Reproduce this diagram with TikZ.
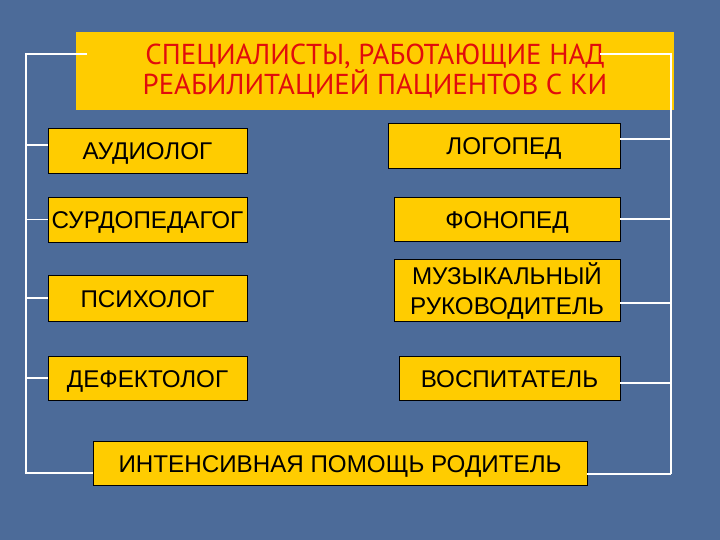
\documentclass[tikz,border=0pt]{standalone}
\usepackage{fontspec}
\setmainfont{Liberation Sans}
\newfontfamily\titlefont{PT Sans}
\definecolor{slideblue}{RGB}{76,107,153}
\definecolor{boxyellow}{RGB}{255,204,0}
\definecolor{titlered}{RGB}{225,12,12}

\begin{document}
\begin{tikzpicture}[x=1pt,y=-1pt,
    jobbox/.style={draw=black,
      line width=0.9pt,
      fill=boxyellow,
      inner sep=0pt,
      minimum height=45pt,
      text height=18.5pt,
      text depth=0pt,
      font=\fontsize{24.2}{30}\selectfont},
    wire/.style={draw=white, line width=1.2pt}]

    % Background
    \fill[slideblue] (0,0) rectangle (720,540);

    % Title
    \node[fill=boxyellow,
      minimum width=598pt,
      minimum height=78pt,
      inner sep=0pt,
      align=center,
      text=titlered,
      font=\titlefont\fontsize{28.8}{27}\selectfont] (title) at (375,71)
      {СПЕЦИАЛИСТЫ, РАБОТАЮЩИЕ НАД\\РЕАБИЛИТАЦИЕЙ ПАЦИЕНТОВ С КИ};

    % Left column
    \node[jobbox, minimum width=199pt] (aud)  at (147.5,150.5) {АУДИОЛОГ};
    \node[jobbox, minimum width=199pt] (surd) at (147.5,219.5) {СУРДОПЕДАГОГ};
    \node[jobbox, minimum width=199pt, minimum height=46pt] (psy) at (147.5,298) {ПСИХОЛОГ};
    \node[jobbox, minimum width=199pt, minimum height=44pt] (def) at (147.5,378) {ДЕФЕКТОЛОГ};

    % Right column
    \node[jobbox, minimum width=232pt] (logo) at (504,145.5) {ЛОГОПЕД};
    \node[jobbox, minimum width=226pt, minimum height=44pt] (fono) at (507,219) {ФОНОПЕД};
    \node[jobbox, minimum width=226pt, minimum height=62pt, align=center,
      text height=49pt] (muz) at (507,290)
      {МУЗЫКАЛЬНЫЙ\\РУКОВОДИТЕЛЬ};
    \node[jobbox, minimum width=221pt, minimum height=44pt] (vosp) at (509.5,378) {ВОСПИТАТЕЛЬ};

    % Bottom
    \node[jobbox, minimum width=494pt, minimum height=44pt] (help) at (340,463)
      {ИНТЕНСИВНАЯ ПОМОЩЬ РОДИТЕЛЬ};

    % Bracket ends
    \coordinate (ltop) at (26,54);
    \coordinate (lin)  at (87,54);
    \coordinate (rtop) at (671,54);
    \coordinate (rin)  at (600,54);

    % Left bracket
    \draw[wire] (lin) -- (ltop) -- ([yshift=-11pt]help.west -| ltop);
    \draw[wire] ([yshift=5.5pt]aud.west) -- ([yshift=5.5pt]aud.west -| ltop);
    \draw[wire] (surd.west) -- (surd.west -| ltop);
    \draw[wire] (psy.west) -- (psy.west -| ltop);
    \draw[wire] (def.west) -- (def.west -| ltop);
    \draw[wire] ([yshift=-10pt]help.west) -- ([yshift=-10pt]help.west -| ltop);

    % Right bracket
    \draw[wire] (rin) -- (rtop) -- ([yshift=-11pt]help.east -| rtop);
    \draw[wire] ([yshift=6.5pt]logo.east) -- ([yshift=6.5pt]logo.east -| rtop);
    \draw[wire] (fono.east) -- (fono.east -| rtop);
    \draw[wire] ([yshift=-13pt]muz.east) -- ([yshift=-13pt]muz.east -| rtop);
    \draw[wire] ([yshift=-5pt]vosp.east) -- ([yshift=-5pt]vosp.east -| rtop);
    \draw[wire] ([yshift=-11pt]help.east) -- ([yshift=-11pt]help.east -| rtop);

\end{tikzpicture}
\end{document}
